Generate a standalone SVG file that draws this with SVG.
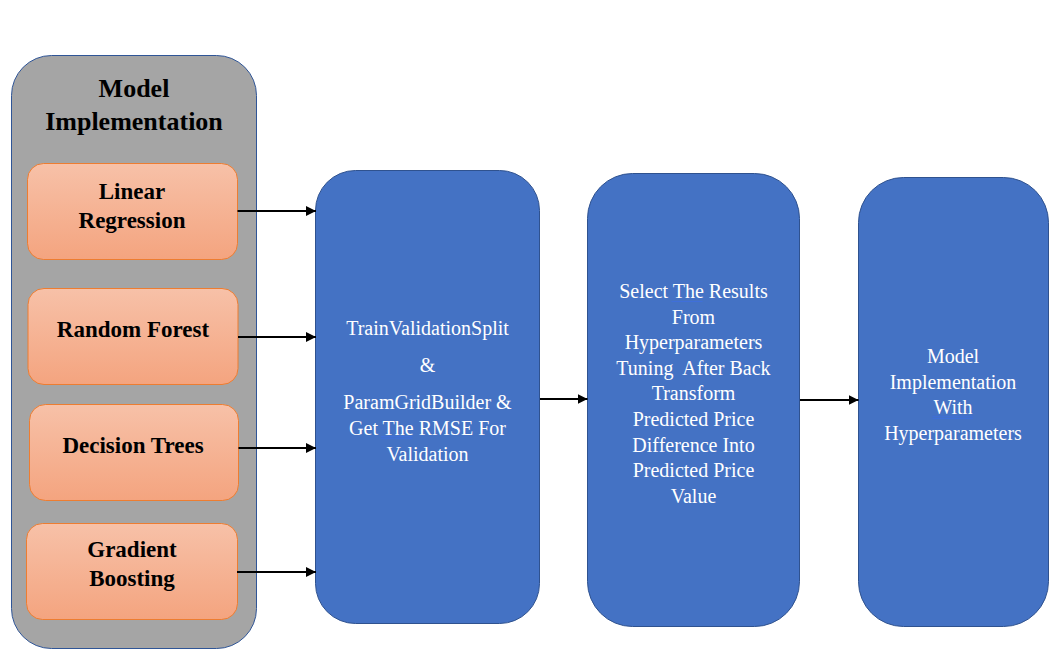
<svg xmlns="http://www.w3.org/2000/svg" width="1062" height="665" viewBox="0 0 1062 665">
<style>
.title{font-family:"Liberation Serif","Times New Roman",serif;font-weight:bold;font-size:26px;fill:#000;text-anchor:middle}
.lbl{font-family:"Liberation Serif","Times New Roman",serif;font-weight:bold;font-size:23px;fill:#000;text-anchor:middle}
.wt{font-family:"Liberation Serif","Times New Roman",serif;font-size:20px;fill:#fff;text-anchor:middle}
.panel{fill:#a5a5a5;stroke:#2f5597;stroke-width:1}
.model{fill:url(#og);stroke:#ed7d31;stroke-width:1}
.blue{fill:#4472c4;stroke:#2f528f;stroke-width:1}
.conn{stroke:#000;stroke-width:2;fill:none;marker-end:url(#ah)}
.sp{stroke:#3d6fe0;stroke-width:0.8;fill:none}
</style>
<defs>
<linearGradient id="og" x1="0" y1="0" x2="0" y2="1">
<stop offset="0" stop-color="#f7c1a8"/>
<stop offset="1" stop-color="#f4a47f"/>
</linearGradient>
<marker id="ah" viewBox="0 0 10 10" refX="10" refY="5" markerWidth="5" markerHeight="5" orient="auto" markerUnits="strokeWidth">
<path d="M0,0 L10,5 L0,10 z" fill="#000"/>
</marker>
</defs>
<rect width="1062" height="665" fill="#fff"/>

<g id="panel">
<rect class="panel" x="11.5" y="55.5" width="245" height="593" rx="40" ry="40"/>
<text class="title" x="134" y="97">Model</text>
<text class="title" x="134" y="130">Implementation</text>
</g>

<g id="linear-regression">
<rect class="model" x="27.5" y="163.5" width="210" height="96" rx="16" ry="16"/>
<text class="lbl" x="132" y="199">Linear</text>
<text class="lbl" x="132" y="228">Regression</text>
</g>
<g id="random-forest">
<rect class="model" x="28" y="288.5" width="210" height="96" rx="16" ry="16"/>
<text class="lbl" x="133" y="337">Random Forest</text>
</g>
<g id="decision-trees">
<rect class="model" x="29.5" y="404.5" width="209" height="96" rx="16" ry="16"/>
<text class="lbl" x="133" y="453">Decision Trees</text>
</g>
<g id="gradient-boosting">
<rect class="model" x="26.5" y="523.5" width="211" height="96" rx="16" ry="16"/>
<text class="lbl" x="132" y="557">Gradient</text>
<text class="lbl" x="132" y="586">Boosting</text>
</g>

<g id="tuning">
<rect class="blue" x="315.5" y="170.5" width="224" height="453" rx="40" ry="40"/>
<text class="wt" x="427.5" y="335">TrainValidationSplit</text>
<text class="wt" x="427.5" y="372">&amp;</text>
<text class="wt" x="427.5" y="409">ParamGridBuilder &amp;</text>
<text class="wt" x="427.5" y="435">Get The RMSE For</text>
<text class="wt" x="427.5" y="461">Validation</text>
<path class="sp" d="M381,436.5 H412.5 M381,438.3 H412.5"/>
</g>

<g id="select">
<rect class="blue" x="587.5" y="173.5" width="212" height="453" rx="45" ry="45"/>
<text class="wt" x="693.5" y="298">Select The Results</text>
<text class="wt" x="693.5" y="323.6">From</text>
<text class="wt" x="693.5" y="349.2">Hyperparameters</text>
<text class="wt" x="693.5" y="374.8" xml:space="preserve" style="white-space:pre">Tuning  After Back</text>
<text class="wt" x="693.5" y="400.4">Transform</text>
<text class="wt" x="693.5" y="426">Predicted Price</text>
<text class="wt" x="693.5" y="451.6">Difference Into</text>
<text class="wt" x="693.5" y="477.2">Predicted Price</text>
<text class="wt" x="693.5" y="502.8">Value</text>
<path class="sp" d="M671.5,301.5 H702.5"/>
</g>

<g id="final">
<rect class="blue" x="858.5" y="177.5" width="190" height="449" rx="45" ry="45"/>
<text class="wt" x="953" y="363">Model</text>
<text class="wt" x="953" y="388.5">Implementation</text>
<text class="wt" x="953" y="414">With</text>
<text class="wt" x="953" y="439.5">Hyperparameters</text>
<path class="sp" d="M932.5,416.3 H973 M932.5,418.4 H973"/>
</g>

<g id="connectors">
<line class="conn" x1="237.5" y1="211" x2="316" y2="211"/>
<line class="conn" x1="238" y1="337" x2="316" y2="337"/>
<line class="conn" x1="238.5" y1="448" x2="316" y2="448"/>
<line class="conn" x1="237" y1="572" x2="316" y2="572"/>
<line class="conn" x1="540" y1="399" x2="587.5" y2="399"/>
<line class="conn" x1="800" y1="400" x2="858.5" y2="400"/>
</g>
</svg>
